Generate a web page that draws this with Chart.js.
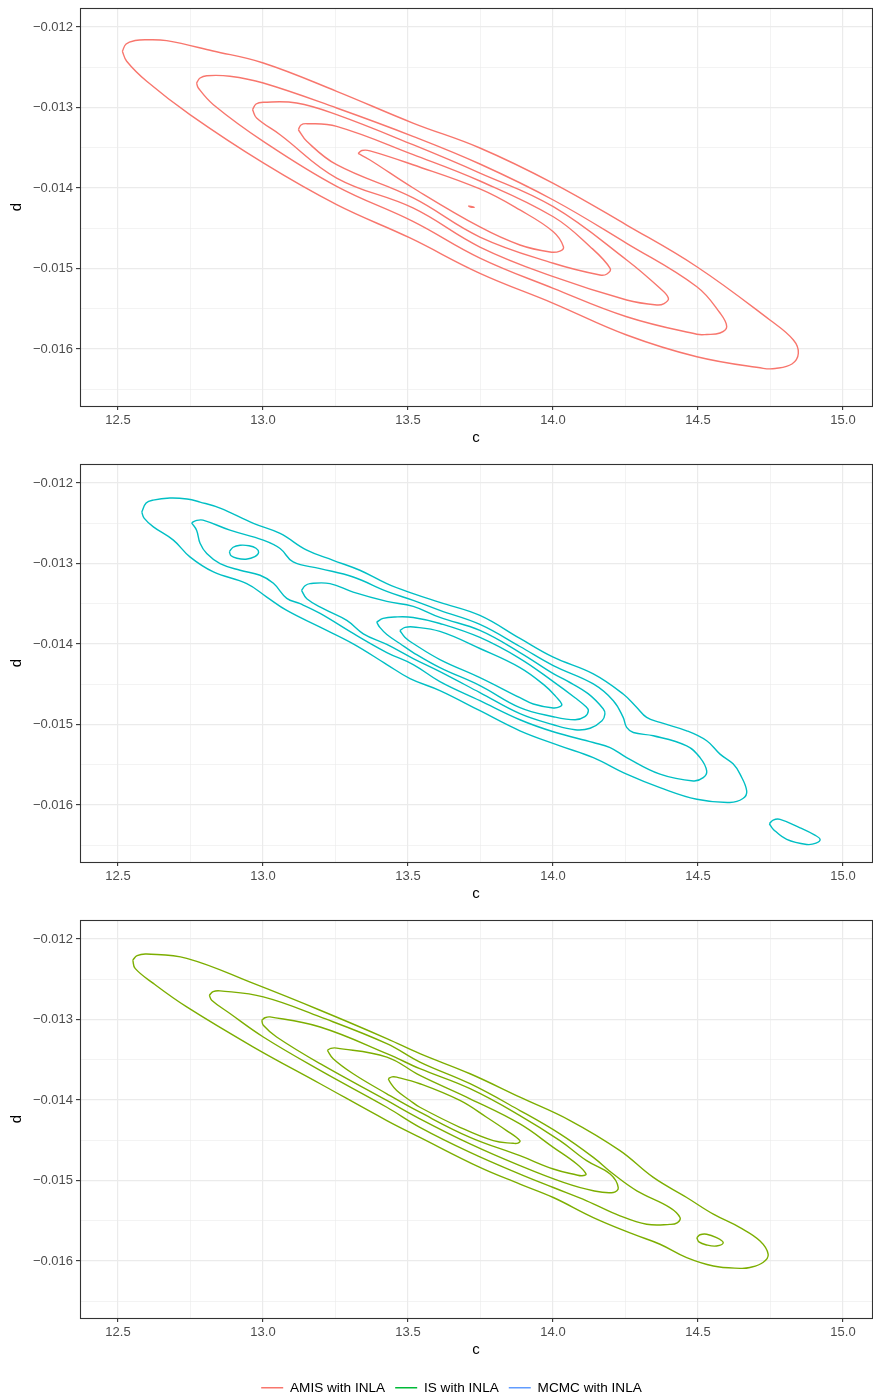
<!DOCTYPE html>
<html>
<head>
<meta charset="utf-8">
<script src="https://cdn.jsdelivr.net/npm/chart.js@4.4.1/dist/chart.umd.min.js"></script>
<style>
  body { margin: 0; background: #fff; overflow: hidden; }
  canvas { display: block; }
</style>
</head>
<body>
<canvas id="amisChart" width="873" height="456"></canvas>
<canvas id="isChart" width="873" height="456"></canvas>
<canvas id="mcmcChart" width="873" height="456"></canvas>
<canvas id="legendChart" width="873" height="100"></canvas>
<script>
// axis setup (same for the three panels)
const xRange = [12.369, 15.1];
const yRange = [-0.016708, -0.011764];
const xMajorTicks = [12.5, 13.0, 13.5, 14.0, 14.5, 15.0];
const xMinorTicks = [12.75, 13.25, 13.75, 14.25, 14.75];
const yMajorTicks = [-0.016, -0.015, -0.014, -0.013, -0.012];
const yMinorTicks = [-0.0165, -0.0155, -0.0145, -0.0135, -0.0125];

const legendNames = ['AMIS with INLA', 'IS with INLA', 'MCMC with INLA'];
const legendColors = ['#F8766D', '#00BA38', '#619CFF'];
const panelColors = ['#F8766D', '#00BFC4', '#7CAE00'];

// panel 1 contours, [c, d]
const amisLevel1 = [[12.515,-0.012302],[12.528,-0.012211],[12.559,-0.012168],[12.599,-0.012158],[12.668,-0.012170],[12.828,-0.012298],[13.001,-0.012447],[13.254,-0.012799],[13.517,-0.013193],[13.748,-0.013503],[14.001,-0.013942],[14.254,-0.014460],[14.496,-0.014978],[14.748,-0.015640],[14.829,-0.015888],[14.846,-0.016053],[14.824,-0.016186],[14.766,-0.016242],[14.725,-0.016240],[14.496,-0.016096],[14.254,-0.015826],[14.001,-0.015432],[13.748,-0.015060],[13.507,-0.014621],[13.254,-0.014207],[13.001,-0.013689],[12.748,-0.013089],[12.599,-0.012675],[12.530,-0.012426],[12.515,-0.012302]];
const amisLevel2 = [[12.771,-0.012696],[12.783,-0.012634],[12.806,-0.012605],[12.886,-0.012612],[13.001,-0.012696],[13.254,-0.013006],[13.517,-0.013358],[13.748,-0.013702],[14.001,-0.014149],[14.254,-0.014687],[14.496,-0.015226],[14.576,-0.015553],[14.599,-0.015723],[14.576,-0.015801],[14.530,-0.015820],[14.496,-0.015817],[14.254,-0.015599],[14.001,-0.015246],[13.748,-0.014870],[13.517,-0.014414],[13.254,-0.013979],[13.001,-0.013420],[12.829,-0.012965],[12.777,-0.012758],[12.771,-0.012696]];
const amisLevel3 = [[12.964,-0.013027],[12.976,-0.012957],[13.001,-0.012935],[13.116,-0.012944],[13.254,-0.013089],[13.517,-0.013462],[13.748,-0.013814],[14.001,-0.014232],[14.254,-0.014894],[14.369,-0.015246],[14.398,-0.015370],[14.383,-0.015435],[14.358,-0.015453],[14.254,-0.015391],[14.001,-0.015102],[13.748,-0.014733],[13.517,-0.014248],[13.254,-0.013876],[13.059,-0.013338],[12.978,-0.013130],[12.964,-0.013027]];
const amisLevel4 = [[13.122,-0.013276],[13.131,-0.013217],[13.151,-0.013201],[13.254,-0.013234],[13.518,-0.013586],[13.748,-0.013913],[14.001,-0.014357],[14.128,-0.014729],[14.197,-0.014998],[14.186,-0.015068],[14.162,-0.015081],[14.001,-0.014935],[13.748,-0.014609],[13.518,-0.014124],[13.254,-0.013711],[13.151,-0.013420],[13.122,-0.013276]];
const amisLevel5 = [[13.328,-0.013571],[13.341,-0.013534],[13.369,-0.013538],[13.517,-0.013711],[13.748,-0.014012],[13.886,-0.014273],[14.001,-0.014543],[14.036,-0.014729],[14.024,-0.014783],[13.990,-0.014795],[13.886,-0.014708],[13.748,-0.014484],[13.518,-0.014000],[13.369,-0.013652],[13.328,-0.013571]];
const amisPeak = [[13.708,-0.014222],[13.728,-0.014240],[13.716,-0.014236],[13.708,-0.014222]];

// panel 2 contours
const isLevel1 = [[12.582,-0.012361],[12.597,-0.012249],[12.621,-0.012212],[12.679,-0.012187],[12.738,-0.012199],[12.783,-0.012237],[12.852,-0.012312],[12.967,-0.012502],[13.059,-0.012627],[13.151,-0.012835],[13.242,-0.012960],[13.334,-0.013084],[13.427,-0.013250],[13.518,-0.013374],[13.610,-0.013483],[13.748,-0.013645],[13.886,-0.013931],[14.001,-0.014164],[14.139,-0.014371],[14.242,-0.014621],[14.289,-0.014788],[14.323,-0.014912],[14.369,-0.014974],[14.461,-0.015078],[14.530,-0.015202],[14.576,-0.015368],[14.621,-0.015489],[14.645,-0.015617],[14.668,-0.015826],[14.655,-0.015919],[14.610,-0.015969],[14.496,-0.015929],[14.369,-0.015784],[14.254,-0.015617],[14.139,-0.015411],[14.024,-0.015265],[13.886,-0.015078],[13.748,-0.014829],[13.610,-0.014579],[13.507,-0.014430],[13.427,-0.014255],[13.311,-0.013998],[13.197,-0.013791],[13.082,-0.013583],[13.013,-0.013417],[12.944,-0.013250],[12.829,-0.013105],[12.748,-0.012918],[12.691,-0.012710],[12.622,-0.012545],[12.590,-0.012436],[12.582,-0.012361]];
const isLevel2 = [[12.754,-0.012495],[12.769,-0.012467],[12.793,-0.012461],[12.886,-0.012586],[13.001,-0.012710],[13.059,-0.012814],[13.104,-0.012981],[13.197,-0.013063],[13.311,-0.013168],[13.427,-0.013346],[13.518,-0.013458],[13.610,-0.013583],[13.748,-0.013757],[13.886,-0.014031],[14.001,-0.014268],[14.139,-0.014496],[14.208,-0.014704],[14.242,-0.014912],[14.254,-0.015037],[14.277,-0.015099],[14.346,-0.015140],[14.461,-0.015265],[14.507,-0.015411],[14.530,-0.015576],[14.518,-0.015660],[14.484,-0.015701],[14.369,-0.015617],[14.254,-0.015411],[14.197,-0.015286],[14.139,-0.015224],[14.001,-0.015090],[13.886,-0.014941],[13.748,-0.014704],[13.610,-0.014467],[13.518,-0.014255],[13.427,-0.014106],[13.311,-0.013869],[13.197,-0.013620],[13.128,-0.013499],[13.082,-0.013433],[13.036,-0.013246],[12.990,-0.013146],[12.921,-0.013084],[12.852,-0.013001],[12.806,-0.012876],[12.783,-0.012748],[12.771,-0.012586],[12.754,-0.012495]];
const isLevel3 = [[13.133,-0.013333],[13.145,-0.013277],[13.162,-0.013250],[13.231,-0.013250],[13.311,-0.013355],[13.427,-0.013470],[13.518,-0.013533],[13.610,-0.013670],[13.748,-0.013832],[13.886,-0.014106],[14.001,-0.014368],[14.047,-0.014455],[14.121,-0.014617],[14.173,-0.014804],[14.179,-0.014870],[14.169,-0.014953],[14.128,-0.015047],[14.076,-0.015065],[14.001,-0.015003],[13.886,-0.014866],[13.748,-0.014604],[13.610,-0.014343],[13.518,-0.014181],[13.427,-0.014006],[13.346,-0.013873],[13.289,-0.013707],[13.208,-0.013561],[13.151,-0.013437],[13.133,-0.013333]];
const isLevel4 = [[13.392,-0.013728],[13.414,-0.013682],[13.455,-0.013664],[13.518,-0.013670],[13.610,-0.013745],[13.748,-0.013919],[13.886,-0.014181],[14.001,-0.014467],[14.076,-0.014667],[14.114,-0.014779],[14.122,-0.014829],[14.110,-0.014903],[14.076,-0.014941],[14.001,-0.014903],[13.886,-0.014791],[13.748,-0.014517],[13.610,-0.014293],[13.518,-0.014106],[13.472,-0.013994],[13.427,-0.013882],[13.403,-0.013794],[13.392,-0.013728]];
const isLevel5 = [[13.472,-0.013832],[13.490,-0.013794],[13.518,-0.013788],[13.610,-0.013844],[13.748,-0.014056],[13.886,-0.014293],[13.972,-0.014517],[14.010,-0.014654],[14.030,-0.014745],[14.024,-0.014779],[14.001,-0.014795],[13.932,-0.014745],[13.886,-0.014667],[13.748,-0.014417],[13.610,-0.014193],[13.518,-0.013994],[13.490,-0.013919],[13.472,-0.013832]];
const isIslandLeft = [[12.884,-0.012854],[12.897,-0.012798],[12.921,-0.012773],[12.952,-0.012779],[12.976,-0.012810],[12.985,-0.012860],[12.972,-0.012916],[12.941,-0.012947],[12.910,-0.012935],[12.890,-0.012903],[12.884,-0.012854]];
const isIslandRight = [[14.746,-0.016233],[14.759,-0.016187],[14.783,-0.016178],[14.852,-0.016283],[14.903,-0.016374],[14.921,-0.016427],[14.907,-0.016474],[14.875,-0.016490],[14.806,-0.016427],[14.760,-0.016303],[14.746,-0.016233]];

// panel 3 contours
const mcmcLevel1 = [[12.551,-0.012262],[12.566,-0.012206],[12.599,-0.012187],[12.737,-0.012240],[12.967,-0.012552],[13.197,-0.012885],[13.427,-0.013237],[13.541,-0.013424],[13.714,-0.013674],[13.886,-0.013965],[14.059,-0.014255],[14.231,-0.014629],[14.346,-0.014962],[14.461,-0.015211],[14.553,-0.015418],[14.645,-0.015585],[14.714,-0.015751],[14.742,-0.015917],[14.724,-0.016019],[14.679,-0.016081],[14.645,-0.016091],[14.553,-0.016062],[14.461,-0.015959],[14.369,-0.015792],[14.277,-0.015667],[14.139,-0.015460],[14.001,-0.015211],[13.886,-0.015044],[13.748,-0.014837],[13.541,-0.014464],[13.427,-0.014255],[13.197,-0.013798],[12.967,-0.013342],[12.737,-0.012844],[12.622,-0.012552],[12.559,-0.012365],[12.551,-0.012262]];
const mcmcLevel2 = [[12.815,-0.012698],[12.828,-0.012654],[12.852,-0.012644],[13.001,-0.012719],[13.197,-0.012968],[13.427,-0.013300],[13.541,-0.013529],[13.714,-0.013798],[13.886,-0.014131],[14.024,-0.014421],[14.139,-0.014713],[14.208,-0.014920],[14.289,-0.015128],[14.403,-0.015336],[14.438,-0.015460],[14.428,-0.015526],[14.403,-0.015545],[14.323,-0.015543],[14.231,-0.015439],[14.116,-0.015252],[14.001,-0.015087],[13.886,-0.014920],[13.714,-0.014650],[13.541,-0.014339],[13.427,-0.014090],[13.197,-0.013632],[13.001,-0.013217],[12.886,-0.012926],[12.823,-0.012760],[12.815,-0.012698]];
const mcmcLevel3 = [[12.996,-0.013009],[13.007,-0.012978],[13.024,-0.012968],[13.197,-0.013093],[13.427,-0.013424],[13.541,-0.013611],[13.714,-0.013860],[13.886,-0.014193],[14.024,-0.014505],[14.116,-0.014754],[14.197,-0.014920],[14.225,-0.015087],[14.208,-0.015149],[14.139,-0.015128],[14.036,-0.015024],[13.886,-0.014816],[13.714,-0.014546],[13.541,-0.014234],[13.427,-0.014006],[13.197,-0.013549],[13.047,-0.013217],[13.001,-0.013072],[12.996,-0.013009]];
const mcmcLevel4 = [[13.222,-0.013383],[13.234,-0.013358],[13.254,-0.013355],[13.427,-0.013467],[13.541,-0.013695],[13.714,-0.013985],[13.886,-0.014297],[14.001,-0.014588],[14.082,-0.014795],[14.114,-0.014920],[14.100,-0.014941],[14.082,-0.014932],[14.001,-0.014857],[13.886,-0.014692],[13.714,-0.014464],[13.541,-0.014152],[13.427,-0.013923],[13.311,-0.013674],[13.242,-0.013487],[13.222,-0.013383]];
const mcmcLevel5 = [[13.432,-0.013736],[13.445,-0.013713],[13.461,-0.013716],[13.541,-0.013798],[13.679,-0.014006],[13.771,-0.014214],[13.840,-0.014380],[13.886,-0.014505],[13.879,-0.014536],[13.863,-0.014538],[13.794,-0.014505],[13.679,-0.014339],[13.541,-0.014090],[13.507,-0.014006],[13.461,-0.013882],[13.438,-0.013778],[13.432,-0.013736]];
const mcmcIsland = [[14.496,-0.015710],[14.507,-0.015674],[14.530,-0.015667],[14.562,-0.015707],[14.587,-0.015772],[14.564,-0.015813],[14.530,-0.015801],[14.503,-0.015763],[14.496,-0.015710]];

const panels = [
    { id: 'amisChart', color: panelColors[0], contours: [amisLevel1, amisLevel2, amisLevel3, amisLevel4, amisLevel5, amisPeak] },
    { id: 'isChart', color: panelColors[1], contours: [isLevel1, isLevel2, isLevel3, isLevel4, isLevel5, isIslandLeft, isIslandRight] },
    { id: 'mcmcChart', color: panelColors[2], contours: [mcmcLevel1, mcmcLevel2, mcmcLevel3, mcmcLevel4, mcmcLevel5, mcmcIsland] }
];

Chart.defaults.font.family = '"Liberation Sans", Arial, sans-serif';

const panelBorder = {
    id: 'panelBorder',
    afterDraw(chart) {
        const { ctx, chartArea: a } = chart;
        ctx.save();
        ctx.strokeStyle = '#333333';
        ctx.lineWidth = 1.1;
        ctx.strokeRect(a.left + 0.5, a.top + 0.5, a.right - a.left, a.bottom - a.top);
        ctx.restore();
    }
};

function isMajor(list, tick) {
    return tick && list.includes(tick.value);
}

function gridFor(majors) {
    return {
        color: '#EBEBEB',
        lineWidth: c => isMajor(majors, c.tick) ? 1.2 : 0.6,
        tickLength: 4,
        tickColor: c => isMajor(majors, c.tick) ? '#333333' : 'rgba(0,0,0,0)',
        tickWidth: 1.1
    };
}

function panelOptions() {
    return {
        responsive: false,
        animation: false,
        layout: { padding: { top: 8, right: 1, left: 0, bottom: 0 } },
        plugins: { legend: { display: false }, tooltip: { enabled: false } },
        scales: {
            x: {
                type: 'linear',
                min: xRange[0],
                max: xRange[1],
                afterBuildTicks: s => { s.ticks = xMajorTicks.concat(xMinorTicks).sort((a, b) => a - b).map(v => ({ value: v })); },
                afterFit: s => { s.height = 50; s.paddingLeft = 0; s.paddingRight = 0; },
                grid: gridFor(xMajorTicks),
                border: { display: false },
                ticks: {
                    autoSkip: false, maxRotation: 0, padding: 3,
                    color: '#4D4D4D', font: { size: 13 },
                    callback: v => xMajorTicks.includes(v) ? v.toFixed(1) : ''
                },
                title: { display: true, text: 'c', color: '#000000', font: { size: 15 }, padding: { top: 0, bottom: 9 } }
            },
            y: {
                type: 'linear',
                min: yRange[0],
                max: yRange[1],
                afterBuildTicks: s => { s.ticks = yMajorTicks.concat(yMinorTicks).sort((a, b) => a - b).map(v => ({ value: v })); },
                afterFit: s => { s.width = 80; s.paddingTop = 0; s.paddingBottom = 0; },
                grid: gridFor(yMajorTicks),
                border: { display: false },
                ticks: {
                    autoSkip: false, padding: 3,
                    color: '#4D4D4D', font: { size: 13 },
                    callback: v => yMajorTicks.includes(v) ? '\u2212' + Math.abs(v).toFixed(3) : ''
                },
                title: { display: true, text: 'd', color: '#000000', font: { size: 15 }, padding: { top: 8, bottom: 0 } }
            }
        }
    };
}

panels.forEach(p => {
    new Chart(document.getElementById(p.id), {
        type: 'scatter',
        data: {
            datasets: p.contours.map(pts => ({
                data: pts.map(([c, d]) => ({ x: c, y: d })),
                showLine: true,
                borderColor: p.color,
                borderWidth: 1.4,
                pointRadius: 0,
                tension: 0.4,
                fill: false
            }))
        },
        options: panelOptions(),
        plugins: [panelBorder]
    });
});

// shared legend underneath
new Chart(document.getElementById('legendChart'), {
    type: 'scatter',
    data: {
        datasets: legendNames.map((n, i) => ({ label: n, data: [], borderColor: legendColors[i], backgroundColor: legendColors[i] }))
    },
    options: {
        responsive: false,
        animation: false,
        layout: { padding: { left: 30, top: 3 } },
        scales: { x: { display: false }, y: { display: false } },
        plugins: {
            tooltip: { enabled: false },
            legend: {
                display: true,
                position: 'top',
                labels: {
                    usePointStyle: true,
                    pointStyleWidth: 22,
                    boxHeight: 13,
                    padding: 10,
                    color: '#000000',
                    font: { size: 13.6 },
                    generateLabels: () => legendNames.map((n, i) => ({
                        text: n, strokeStyle: legendColors[i], fillStyle: legendColors[i],
                        lineWidth: 1.5, pointStyle: 'line', hidden: false, datasetIndex: i
                    }))
                }
            }
        }
    }
});
</script>
</body>
</html>
